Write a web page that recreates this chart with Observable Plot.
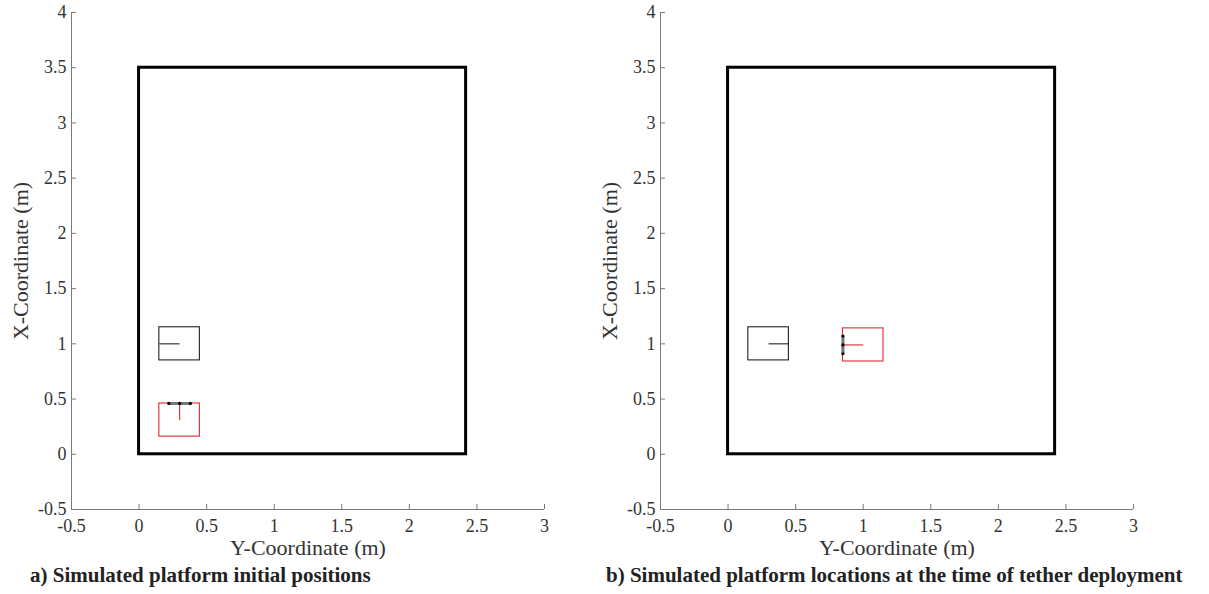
<!DOCTYPE html>
<html>
<head>
<meta charset="utf-8">
<script src="https://cdn.jsdelivr.net/npm/d3@7"></script>
<script src="https://cdn.jsdelivr.net/npm/@observablehq/plot@0.6"></script>
<style>
  html, body { margin: 0; background: #fff; overflow: hidden; }
  #fig { position: relative; width: 1209px; height: 594px; font-family: "Liberation Serif", "Times New Roman", serif; }
  #row { display: flex; width: 1209px; }
  #row svg { flex: none; }
  .cap { position: absolute; top: 565px; font-weight: bold; font-size: 21px; line-height: 21px; color: #222; white-space: nowrap; }
</style>
</head>
<body>
<div id="fig">
  <div id="row"></div>
  <div class="cap" id="capA"></div>
  <div class="cap" id="capB"></div>
</div>
<script>
// Axis ticks (metres)
const yCoordTicks = [-0.5, 0, 0.5, 1, 1.5, 2, 2.5, 3];        // horizontal axis
const xCoordTicks = [-0.5, 0, 0.5, 1, 1.5, 2, 2.5, 3, 3.5, 4]; // vertical axis

// Test arena extent (Y across, X along)
const arenaSpanY = [0, 2.42];
const arenaSpanX = [0, 3.5];

// Platform geometry (metres)
const platformSide = 0.30;
const tetherHalfWidth = 0.08;

// Platform order: [reference platform, tethering platform]
const initialCenterY = [0.30, 0.30];
const initialCenterX = [1.00, 0.31];
const initialHeading = [180, 90];   // degrees, 0 = +Y, 90 = +X

const deployCenterY = [0.30, 1.00];
const deployCenterX = [1.00, 0.99];
const deployHeading = [0, 180];

const captions = [
  "a) Simulated platform initial positions",
  "b) Simulated platform locations at the time of tether deployment"
];
const axisLabelY = "Y-Coordinate (m)";
const axisLabelX = "X-Coordinate (m)";

const SERIF = '"Liberation Serif", "Times New Roman", serif';
const H = 560, MT = 12, MB = 51, ML = 71;
const innerH = H - MT - MB;
const axisGray = "#7a7a7a";
const textGray = "#333";
const platformStroke = ["#222", "#e3282d"];

function panel(width, marginRight, centersY, centersX, headings) {
  const innerW = width - ML - marginRight;
  const half = platformSide / 2;
  const squares = centersY.map((cy, i) => ({
    x1: cy - half, x2: cy + half, y1: centersX[i] - half, y2: centersX[i] + half, k: i
  }));
  const headingLines = centersY.map((cy, i) => {
    const a = headings[i] * Math.PI / 180;
    return {x1: cy, y1: centersX[i], x2: cy + half * Math.cos(a), y2: centersX[i] + half * Math.sin(a), k: i};
  });
  // tether bar sits on the leading edge of the tethering platform
  const t = headingLines[1];
  const a = headings[1] * Math.PI / 180;
  const px = -Math.sin(a) * tetherHalfWidth, py = Math.cos(a) * tetherHalfWidth;
  const tether = [{x1: t.x2 - px, y1: t.y2 - py, x2: t.x2 + px, y2: t.y2 + py}];
  const tetherDots = [-1, 0, 1].map(s => ({x: t.x2 + s * px, y: t.y2 + s * py}));
  const arena = [{x1: arenaSpanY[0], x2: arenaSpanY[1], y1: arenaSpanX[0], y2: arenaSpanX[1]}];

  return Plot.plot({
    width, height: H,
    marginLeft: ML, marginRight, marginTop: MT, marginBottom: MB,
    style: {fontFamily: SERIF, color: textGray, background: "white", overflow: "visible"},
    x: {domain: [yCoordTicks[0], yCoordTicks[yCoordTicks.length - 1]]},
    y: {domain: [xCoordTicks[0], xCoordTicks[xCoordTicks.length - 1]]},
    marks: [
      Plot.ruleX([yCoordTicks[0]], {stroke: axisGray}),
      Plot.ruleY([xCoordTicks[0]], {stroke: axisGray}),
      Plot.tickX(yCoordTicks, {x: d => d, insetTop: innerH - 5, stroke: axisGray}),
      Plot.tickY(xCoordTicks, {y: d => d, insetRight: innerW - 5, stroke: axisGray}),
      Plot.axisX(yCoordTicks, {tickSize: 0, tickPadding: 10, tickFormat: d => String(d), label: null, fontSize: 18, fontFamily: SERIF}),
      Plot.axisY(xCoordTicks, {tickSize: 0, tickPadding: 5, tickFormat: d => String(d), label: null, fontSize: 18, fontFamily: SERIF}),
      Plot.rect(arena, {x1: "x1", x2: "x2", y1: "y1", y2: "y2", fill: "none", stroke: "black", strokeWidth: 3}),
      Plot.rect(squares, {x1: "x1", x2: "x2", y1: "y1", y2: "y2", fill: "none", stroke: d => platformStroke[d.k], strokeWidth: 1.1}),
      Plot.link(headingLines, {x1: "x1", y1: "y1", x2: "x2", y2: "y2", stroke: d => platformStroke[d.k], strokeWidth: 1.1}),
      Plot.link(tether, {x1: "x1", y1: "y1", x2: "x2", y2: "y2", stroke: "#777", strokeWidth: 3}),
      Plot.dot(tetherDots, {x: "x", y: "y", r: 1.6, fill: "black"}),
      Plot.text([axisLabelY], {text: d => d, frameAnchor: "bottom", dy: 38, lineAnchor: "middle", textAnchor: "middle", fontSize: 22, fontFamily: SERIF, fill: textGray}),
      Plot.text([axisLabelX], {text: d => d, frameAnchor: "left", dx: -51, rotate: -90, lineAnchor: "middle", textAnchor: "middle", fontSize: 22, fontFamily: SERIF, fill: textGray})
    ]
  });
}

const row = document.getElementById("row");
row.append(
  panel(589, 45, initialCenterY, initialCenterX, initialHeading),
  panel(620, 76, deployCenterY, deployCenterX, deployHeading)
);

const capA = document.getElementById("capA");
capA.textContent = captions[0];
capA.style.left = "30px";
const capB = document.getElementById("capB");
capB.textContent = captions[1];
capB.style.left = "606px";
</script>
</body>
</html>
